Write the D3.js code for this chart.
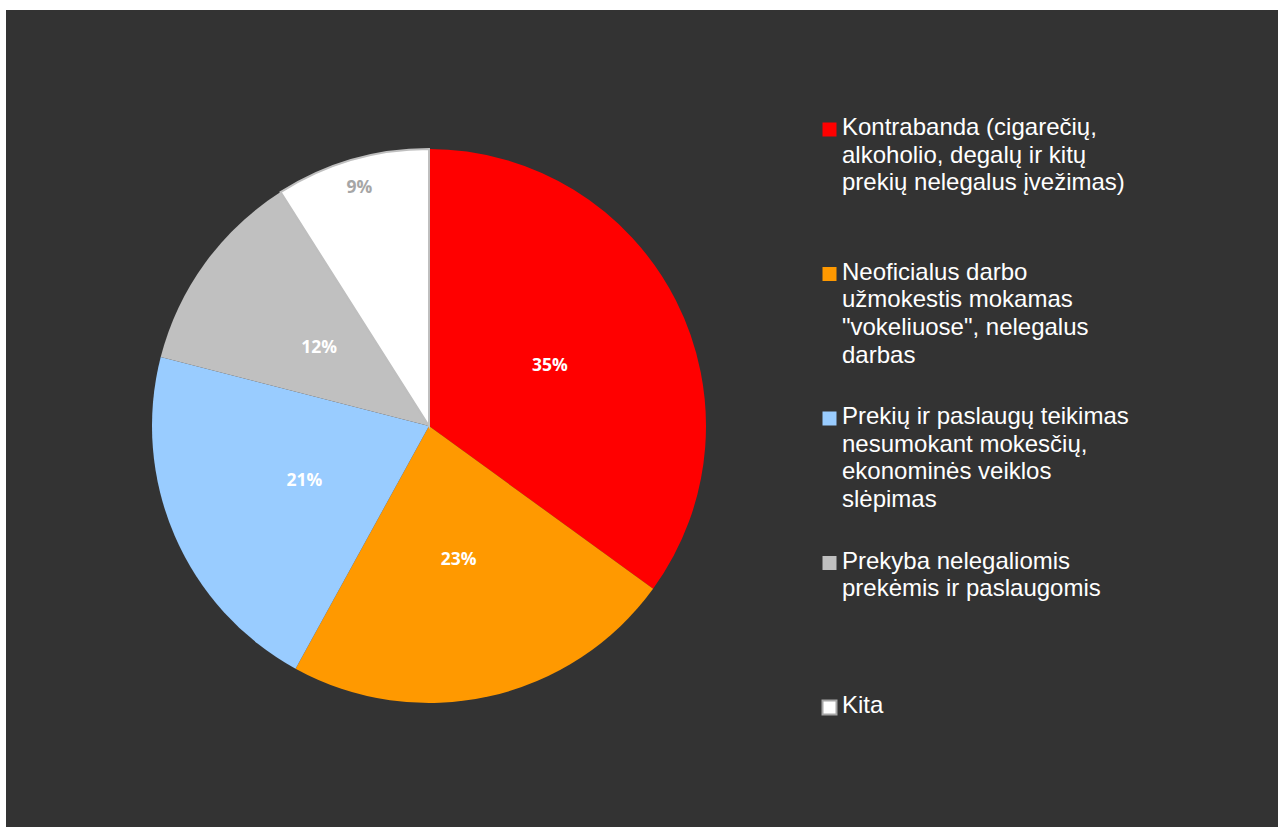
<!DOCTYPE html>
<html>
<head>
<meta charset="utf-8">
<script src="https://cdn.jsdelivr.net/npm/d3@7/dist/d3.min.js"></script>
<style>
  html, body { margin: 0; padding: 0; background: #ffffff; }
  svg { display: block; }
</style>
</head>
<body>
<svg id="chart" width="1278" height="827"></svg>
<script>
// ---- data ----
const categories = [
  "Kontrabanda (cigarečių, alkoholio, degalų ir kitų prekių nelegalus įvežimas)",
  "Neoficialus darbo užmokestis mokamas \"vokeliuose\", nelegalus darbas",
  "Prekių ir paslaugų teikimas nesumokant mokesčių, ekonominės veiklos slėpimas",
  "Prekyba nelegaliomis prekėmis ir paslaugomis",
  "Kita"
];
const legendLines = [
  ["Kontrabanda (cigarečių,", "alkoholio, degalų ir kitų", "prekių nelegalus įvežimas)"],
  ["Neoficialus darbo", "užmokestis mokamas", "\"vokeliuose\", nelegalus", "darbas"],
  ["Prekių ir paslaugų teikimas", "nesumokant mokesčių,", "ekonominės veiklos", "slėpimas"],
  ["Prekyba nelegaliomis", "prekėmis ir paslaugomis"],
  ["Kita"]
];
const values = [35, 23, 21, 12, 9];
const labels = ["35%", "23%", "21%", "12%", "9%"];
const colors = ["#FF0000", "#FF9900", "#99CCFF", "#C0C0C0", "#FFFFFF"];

// ---- layout ----
const svg = d3.select("#chart");
svg.append("rect").attr("x", 6).attr("y", 10).attr("width", 1272).attr("height", 817).attr("fill", "#333333");

const cx = 429, cy = 426, R = 277;
const data = values.map((v, i) => ({ v, i }));
const pie = d3.pie().value(d => d.v).sort(null);
const arcs = pie(data);
const arc = d3.arc().innerRadius(0).outerRadius(R);

const g = svg.append("g").attr("transform", `translate(${cx},${cy})`);
g.selectAll("path.slice").data(arcs).join("path")
  .attr("class", "slice")
  .attr("d", arc)
  .attr("fill", d => colors[d.data.i])
  .attr("stroke", d => d.data.i === 4 ? "#BFBFBF" : "none")
  .attr("stroke-width", d => d.data.i === 4 ? 2 : 0);

g.selectAll("text.lbl").data(arcs).join("text")
  .attr("class", "lbl")
  .attr("transform", d => {
    const r = d.data.i === 4 ? R * 0.9 : R * 0.49;
    const a = (d.startAngle + d.endAngle) / 2;
    return `translate(${Math.sin(a) * r},${-Math.cos(a) * r})`;
  })
  .attr("text-anchor", "middle")
  .attr("dy", "0.36em")
  .attr("font-family", "'Open Sans', Lato, sans-serif")
  .attr("font-weight", "bold")
  .attr("font-size", 17.5)
  .attr("fill", d => d.data.i === 4 ? "#A6A6A6" : "#FFFFFF")
  .text(d => labels[d.data.i]);

// ---- legend ----
const legend = svg.append("g");
const lx = 822, firstBase = 135, itemGap = 144.5, lineH = 27.7;
categories.forEach((c, i) => {
  const base = firstBase + i * itemGap;
  legend.append("rect")
    .attr("x", lx + 0.5).attr("y", base - 12.5)
    .attr("width", 14).attr("height", 14)
    .attr("fill", colors[i])
    .attr("stroke", i === 4 ? "#A6A6A6" : "none")
    .attr("stroke-width", i === 4 ? 2 : 0);
  const t = legend.append("text")
    .attr("x", lx + 20).attr("y", base)
    .attr("font-family", "'Liberation Sans', Arial, sans-serif")
    .attr("font-size", 24)
    .attr("fill", "#FFFFFF");
  legendLines[i].forEach((ln, k) => {
    t.append("tspan").attr("x", lx + 20).attr("y", base + k * lineH).text(ln);
  });
});
</script>
</body>
</html>
